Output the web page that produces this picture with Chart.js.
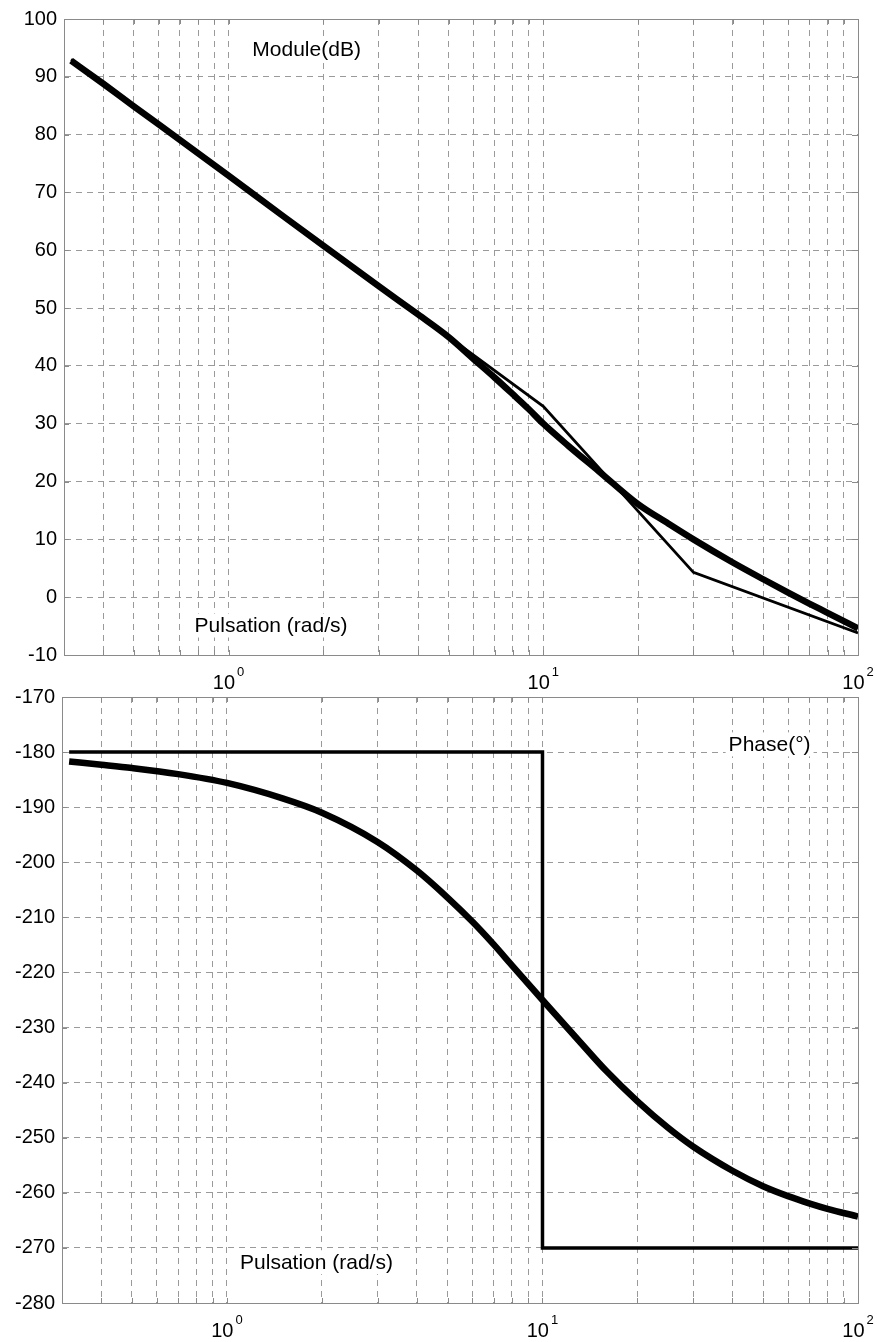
<!DOCTYPE html>
<html>
<head>
<meta charset="utf-8">
<script src="https://cdn.jsdelivr.net/npm/chart.js@4.4.1/dist/chart.umd.min.js"></script>
<style>
  html, body { margin: 0; padding: 0; background: #fff; }
  #wrap { position: relative; width: 877px; height: 1342px; overflow: hidden; }
  canvas { position: absolute; left: 0; }
</style>
</head>
<body>
<div id="wrap">
  <canvas id="gain" width="877" height="697" style="top:0px"></canvas>
  <canvas id="phase" width="877" height="682" style="top:660px"></canvas>
</div>
<script>
// pulsation (rad/s) and values
var wGain = [0.316, 0.4, 0.5, 0.7, 1, 1.5, 2, 3, 4, 5, 6, 7, 8, 9, 10, 12, 15, 20, 25, 30, 40, 50, 60, 70, 80, 100];
var gainDb = [92.8, 88.8, 84.9, 79.1, 72.9, 65.8, 60.8, 53.8, 48.9, 45.0, 41.2, 38.0, 35.1, 32.5, 30.0, 26.2, 21.8, 16.1, 12.7, 10.0, 6.0, 3.1, 0.8, -1.1, -2.7, -5.4];
var wGainAsym = [0.316, 10, 30, 100];
var gainAsymDb = [93, 33, 4.3, -6.2];

var wPhase = [0.316, 0.4, 0.5, 0.7, 1, 1.5, 2, 3, 4, 5, 6, 7, 8, 10, 13, 16, 20, 25, 30, 40, 50, 60, 70, 80, 100];
var phaseDeg = [-181.7, -182.3, -182.9, -184, -185.6, -188.4, -191, -196.3, -201.5, -206.4, -210.8, -214.9, -218.7, -225, -232.3, -238, -243.4, -248.2, -251.6, -256, -258.8, -260.6, -261.9, -262.9, -264.3];
var wPhaseAsym = [0.316, 10, 10, 100];
var phaseAsymDeg = [-180, -180, -270, -270];

// log grid and decade labels
var xGrid = [0.4, 0.5, 0.6, 0.7, 0.8, 0.9, 1, 2, 3, 4, 5, 6, 7, 8, 9, 10, 20, 30, 40, 50, 60, 70, 80, 90, 100];
var xDecades = [1, 10, 100];
var xExponents = ["0", "1", "2"];

var FONT = '"Liberation Sans", Arial, sans-serif';
var GRID = '#9a9a9a';
var EDGE = '#8a8a8a';

function pts(xs, ys) {
  return xs.map(function (x, i) { return { x: x, y: ys[i] }; });
}

var textNotes = {
  id: 'textNotes',
  beforeDatasetsDraw: function (chart, args, opts) {
    var ctx = chart.ctx, xs = chart.scales.x, ys = chart.scales.y;
    ctx.save();
    ctx.font = '21px ' + FONT;
    ctx.textBaseline = 'middle';
    ctx.textAlign = 'left';
    (opts.notes || []).forEach(function (n) {
      var px = xs.getPixelForValue(n.x), py = ys.getPixelForValue(n.y);
      var w = ctx.measureText(n.text).width;
      ctx.fillStyle = '#fff';
      ctx.fillRect(px - 3, py - 12, w + 6, 24);
      ctx.fillStyle = '#000';
      ctx.fillText(n.text, px, py + 1);
    });
    ctx.restore();
  },
  afterDraw: function (chart) {
    var a = chart.chartArea, ctx = chart.ctx, xs = chart.scales.x, ys = chart.scales.y;
    ctx.save();
    // frame and small inner ticks
    ctx.strokeStyle = EDGE;
    ctx.lineWidth = 1;
    ctx.setLineDash([]);
    ctx.strokeRect(a.left + 0.5, a.top + 0.5, a.right - a.left, a.bottom - a.top);
    ctx.beginPath();
    xGrid.forEach(function (v) {
      var px = Math.round(xs.getPixelForValue(v)) + 0.5;
      ctx.moveTo(px, a.bottom); ctx.lineTo(px, a.bottom - 5);
      ctx.moveTo(px, a.top); ctx.lineTo(px, a.top + 5);
    });
    ys.ticks.forEach(function (t) {
      var py = Math.round(ys.getPixelForValue(t.value)) + 0.5;
      ctx.moveTo(a.left, py); ctx.lineTo(a.left + 5, py);
      ctx.moveTo(a.right, py); ctx.lineTo(a.right - 6, py);
    });
    ctx.stroke();
    // decade labels 10^n
    ctx.fillStyle = '#000';
    ctx.textBaseline = 'alphabetic';
    ctx.textAlign = 'left';
    var by = a.bottom + 34;
    xDecades.forEach(function (v, i) {
      var px = xs.getPixelForValue(v);
      ctx.font = '20px ' + FONT;
      var w1 = ctx.measureText('10').width;
      ctx.font = '13px ' + FONT;
      var w2 = ctx.measureText(xExponents[i]).width;
      var x0 = px - (w1 + w2 + 2) / 2;
      if (x0 + w1 + w2 + 2 > chart.width - 1) x0 = chart.width - 1 - (w1 + w2 + 2);
      ctx.font = '20px ' + FONT;
      ctx.fillText('10', x0, by);
      ctx.font = '13px ' + FONT;
      ctx.fillText(xExponents[i], x0 + w1 + 2, by - 13);
    });
    ctx.restore();
  }
};

function makeOptions(yMin, yMax, axisW, xAxisH, padTop, notes) {
  return {
    responsive: false,
    animation: false,
    devicePixelRatio: 1,
    layout: { padding: { top: padTop, right: 19, bottom: 0, left: 0 } },
    plugins: {
      legend: { display: false },
      tooltip: { enabled: false },
      textNotes: { notes: notes }
    },
    scales: {
      x: {
        type: 'logarithmic',
        min: 0.3,
        max: 100,
        afterBuildTicks: function (s) {
          s.ticks = xGrid.map(function (v) { return { value: v }; });
        },
        afterFit: function (s) { s.height = xAxisH; },
        ticks: { display: false },
        grid: { color: GRID, lineWidth: 1, drawTicks: false },
        border: { display: true, color: EDGE, width: 1, dash: [6, 5] }
      },
      y: {
        type: 'linear',
        min: yMin,
        max: yMax,
        afterFit: function (s) { s.width = axisW; },
        ticks: {
          stepSize: 10,
          padding: 7,
          color: '#000',
          font: { family: FONT, size: 20 }
        },
        grid: { color: GRID, lineWidth: 1, drawTicks: false },
        border: { display: true, color: EDGE, width: 1, dash: [6, 5] }
      }
    }
  };
}

new Chart(document.getElementById('gain'), {
  type: 'line',
  data: {
    datasets: [
      {
        label: 'Asymptotes',
        data: pts(wGainAsym, gainAsymDb),
        borderColor: '#000',
        borderWidth: 2.8,
        pointRadius: 0,
        tension: 0
      },
      {
        label: 'Module',
        data: pts(wGain, gainDb),
        borderColor: '#000',
        borderWidth: 6.5,
        borderJoinStyle: 'round',
        pointRadius: 0,
        cubicInterpolationMode: 'monotone'
      }
    ]
  },
  options: makeOptions(-10, 100, 64, 42, 19, [
    { text: 'Module(dB)', x: 1.19, y: 94.8 },
    { text: 'Pulsation (rad/s)', x: 0.78, y: -4.9 }
  ]),
  plugins: [textNotes]
});

new Chart(document.getElementById('phase'), {
  type: 'line',
  data: {
    datasets: [
      {
        label: 'Asymptotes',
        data: pts(wPhaseAsym, phaseAsymDeg),
        borderColor: '#000',
        borderWidth: 3.5,
        pointRadius: 0,
        tension: 0
      },
      {
        label: 'Phase',
        data: pts(wPhase, phaseDeg),
        borderColor: '#000',
        borderWidth: 6.5,
        borderJoinStyle: 'round',
        pointRadius: 0,
        cubicInterpolationMode: 'monotone'
      }
    ]
  },
  options: makeOptions(-280, -170, 62, 39, 37, [
    { text: 'Phase(°)', x: 38.9, y: -178.6 },
    { text: 'Pulsation (rad/s)', x: 1.1, y: -272.6 }
  ]),
  plugins: [textNotes]
});
</script>
</body>
</html>
